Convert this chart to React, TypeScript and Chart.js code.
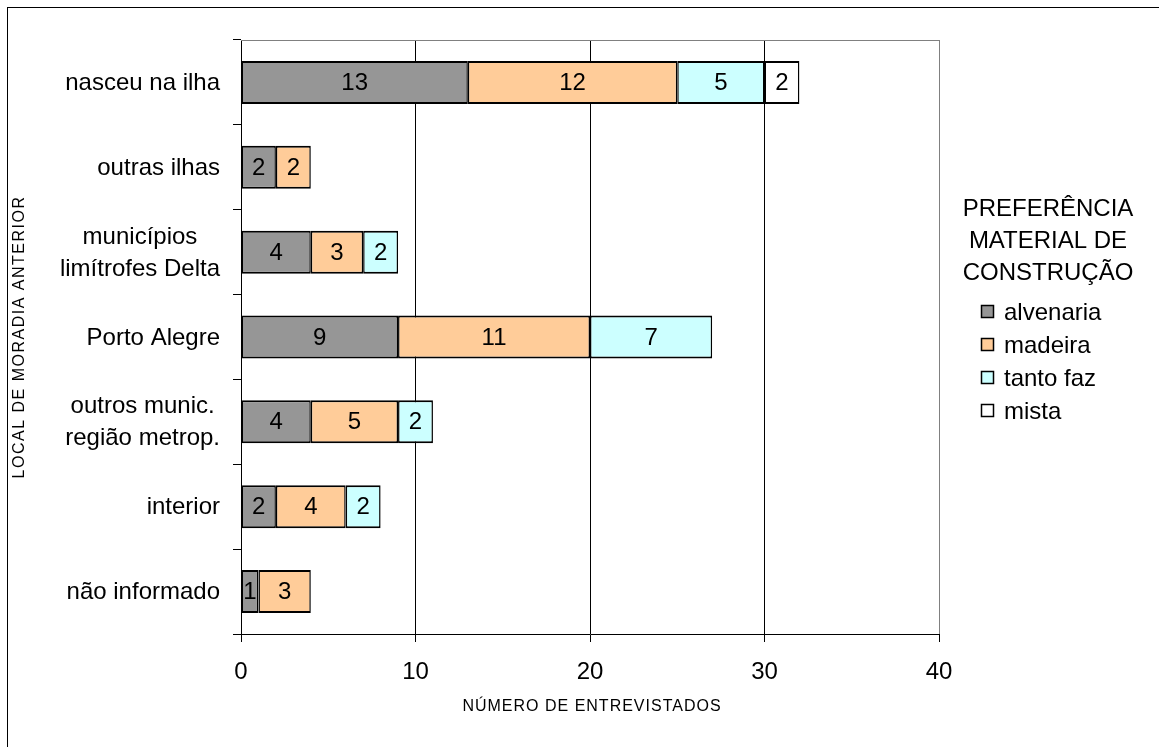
import React, { useEffect, useRef } from "react";
import { Chart, registerables } from "chart.js";

Chart.register(...registerables);

const categories: string[][] = [
  ["nasceu na ilha"],
  ["outras ilhas"],
  ["municípios", "limítrofes Delta"],
  ["Porto Alegre"],
  ["outros munic.", "região metrop."],
  ["interior"],
  ["não informado"],
];
const seriesNames = ["alvenaria", "madeira", "tanto faz", "mista"];
const alvenaria = [13, 2, 4, 9, 4, 2, 1];
const madeira = [12, 2, 3, 11, 5, 4, 3];
const tantoFaz = [5, null, 2, 7, 2, 2, null];
const mista = [2, null, null, null, null, null, null];
const seriesColors = ["#969696", "#FFCC99", "#CCFFFF", "#FFFFFF"];
const xMin = 0;
const xMax = 40;
const xStep = 10;
const legendTitle = ["PREFERÊNCIA", "MATERIAL DE", "CONSTRUÇÃO"];
const yTitle = "LOCAL DE MORADIA ANTERIOR";
const xTitle = "NÚMERO DE ENTREVISTADOS";

const FONT = "'Liberation Sans', Arial, sans-serif";

const decorPlugin = {
  id: "decor",
  beforeDatasetsDraw(chart: any) {
    const { ctx, chartArea } = chart;
    ctx.save();
    ctx.strokeStyle = "#808080";
    ctx.lineWidth = 1;
    ctx.beginPath();
    ctx.moveTo(chartArea.left, chartArea.top + 0.5);
    ctx.lineTo(chartArea.right, chartArea.top + 0.5);
    ctx.stroke();
    ctx.restore();
  },
  afterDatasetsDraw(chart: any) {
    const { ctx } = chart;
    ctx.save();
    ctx.font = `24px ${FONT}`;
    ctx.fillStyle = "#000";
    ctx.textAlign = "center";
    ctx.textBaseline = "middle";
    chart.data.datasets.forEach((ds: any, di: number) => {
      const meta = chart.getDatasetMeta(di);
      meta.data.forEach((bar: any, i: number) => {
        const v = ds.data[i];
        if (v == null || v === 0) return;
        const cx = (bar.x + bar.base) / 2;
        ctx.fillText(String(v), cx, bar.y + 1);
      });
    });
    ctx.restore();
  },
  afterDraw(chart: any) {
    const { ctx, chartArea } = chart;
    const yScale = chart.scales.y;
    ctx.save();
    ctx.fillStyle = "#000";
    // category labels
    ctx.font = `24px ${FONT}`;
    ctx.textBaseline = "middle";
    ctx.textAlign = "center";
    const right = chartArea.left - 21;
    const lh = 32;
    categories.forEach((lines, i) => {
      const yc = yScale.getPixelForValue(i);
      const w = Math.max(...lines.map((l) => ctx.measureText(l).width));
      const cx = right - w / 2;
      lines.forEach((line, j) => {
        ctx.fillText(line, cx, yc + (j - (lines.length - 1) / 2) * lh + 1);
      });
    });
    // axis titles
    ctx.font = `16px ${FONT}`;
    (ctx as any).letterSpacing = "1.5px";
    ctx.save();
    ctx.translate(12, (chartArea.top + chartArea.bottom) / 2);
    ctx.rotate(-Math.PI / 2);
    ctx.fillText(yTitle, 0, 0);
    ctx.restore();
    (ctx as any).letterSpacing = "1px";
    ctx.font = `16px ${FONT}`;
    ctx.fillText(xTitle, (chartArea.left + chartArea.right) / 2 + 2, 699);
    (ctx as any).letterSpacing = "0px";
    // legend
    ctx.font = `24px ${FONT}`;
    ctx.textAlign = "center";
    legendTitle.forEach((t, k) => {
      ctx.fillText(t, 1040, 201 + k * 32);
    });
    ctx.textAlign = "left";
    chart.data.datasets.forEach((ds: any, k: number) => {
      const y = 304 + k * 33;
      ctx.fillStyle = ds.backgroundColor;
      ctx.fillRect(973.5, y - 6.5, 12, 12);
      ctx.strokeStyle = "#000";
      ctx.lineWidth = 1.5;
      ctx.strokeRect(973.5, y - 6.5, 12, 12);
      ctx.fillStyle = "#000";
      ctx.fillText(ds.label, 996, y + 1);
    });
    ctx.restore();
  },
};

export default function App() {
  const canvasRef = useRef<HTMLCanvasElement | null>(null);

  useEffect(() => {
    const canvas = canvasRef.current;
    if (!canvas) return;
    const seriesData = [alvenaria, madeira, tantoFaz, mista];
    const chart = new Chart(canvas, {
      type: "bar",
      data: {
        labels: categories.map((c) => c.join(" ")),
        datasets: seriesNames.map((name, k) => ({
          label: name,
          data: seriesData[k] as any,
          backgroundColor: seriesColors[k],
          borderColor: "#000",
          borderWidth: { top: 2, bottom: 2, left: 1.5, right: 1.5 } as any,
          borderSkipped: false as any,
          categoryPercentage: 1,
          barPercentage: 0.507,
        })),
      },
      options: {
        indexAxis: "y",
        responsive: false,
        animation: false,
        layout: { padding: { top: 32, right: 220, left: 0, bottom: 0 } },
        plugins: {
          legend: { display: false },
          tooltip: { enabled: false },
        },
        scales: {
          x: {
            stacked: true,
            min: xMin,
            max: xMax,
            ticks: {
              stepSize: xStep,
              color: "#000",
              font: { family: FONT, size: 24, lineHeight: 1.2 },
              padding: 16,
              maxRotation: 0,
            },
            grid: {
              color: (c: any) => (c.tick && c.tick.value === xMax ? "#808080" : "#000"),
              tickColor: "#000",
              tickLength: 8,
              lineWidth: 1,
            },
            border: { color: "#000", width: 1 },
            afterFit: (scale: any) => {
              scale.height = 113;
            },
          },
          y: {
            stacked: true,
            ticks: { display: false },
            grid: {
              offset: true,
              drawOnChartArea: false,
              drawTicks: true,
              tickLength: 8,
              color: "#000",
            },
            border: { color: "#000", width: 1 },
            afterFit: (scale: any) => {
              scale.width = 233;
            },
          },
        },
      },
      plugins: [decorPlugin],
    });
    return () => chart.destroy();
  }, []);

  return (
    <div
      style={{
        position: "fixed",
        left: 7,
        top: 7,
        width: 1152,
        height: 740,
        borderTop: "1px solid #000",
        borderLeft: "1px solid #000",
        boxSizing: "border-box",
        background: "#fff",
      }}
    >
      <canvas ref={canvasRef} width={1151} height={739} style={{ display: "block" }} />
    </div>
  );
}
